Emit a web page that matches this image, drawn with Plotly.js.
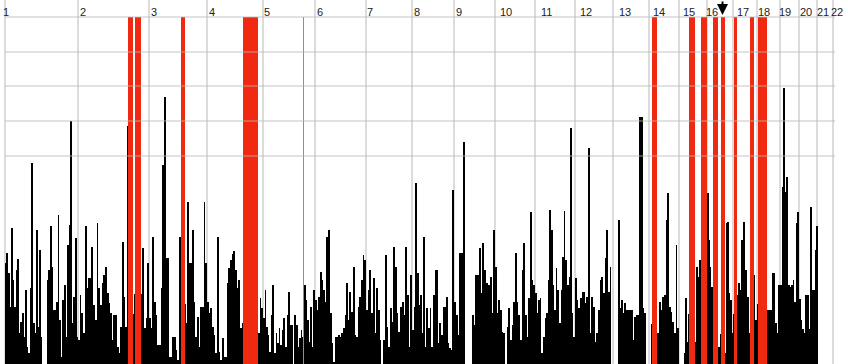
<!DOCTYPE html>
<html><head><meta charset="utf-8">
<script src="https://cdn.plot.ly/plotly-3.0.1.min.js"></script>
<style>html,body{margin:0;padding:0;background:#fff;overflow:hidden}#chart{width:848px;height:364px;}</style>
</head><body><div id="chart"></div>
<script>
// Chromosome labels, start/end positions along the genome axis, label positions
const chromLabels = ['1','2','3','4','5','6','7','8','9','10','11','12','13','14','15','16','17','18','19','20','21','22'];
const chromStart = [5, 78, 149, 207, 263, 315, 366, 412, 454, 495, 535, 575, 613, 649, 679, 707, 733, 757, 780, 799, 817, 833];
const chromEnd   = [78, 149, 207, 263, 315, 366, 412, 454, 495, 535, 575, 613, 649, 679, 707, 733, 757, 780, 799, 818, 833, 848];
const labelPos   = [6, 83, 153.5, 212, 267, 320, 370, 416.5, 459, 505.5, 546, 586, 625, 659, 689, 712, 743, 764, 785, 806, 823, 837];

// Scores per chromosome (bar heights)
const chr1  = [101,111,91,57,136,84,57,94,105,31,42,51,27,74,17,11,76,201,41,31,134,37,114,27,0,0,0,84,94,138,97,54,54,62,149,44,7,64,79,27,119,139,243,41,67,126,27];
const chr2  = [24,69,51,31,138,76,86,86,117,59,44,141,76,59,81,89,97,71,61,51,24,49,49,17,11,37,122,67,37,238,60,80,50,70,90,60,50,70,116,36,46,101];
const chr3  = [46,36,127,62,49,19,19,76,199,267,106,106,7,7,27,27,14,4,127,80,100,60,41,162,101,101,134,62,27,47,17,57,57,162,101];
const chr4  = [62,51,56,37,29,11,127,12,4,26,7,7,81,96,104,110,113,94,76,84,36,41,50,60,40,70,50,60,40,50,60,31,66,56];
const chr5  = [46,74,37,29,12,49,79,11,31,21,36,19,34,46,17,49,72,39,39,0,49,39,17,26,34,27,79,64,44,22,57,17,74];
const chr6  = [64,54,67,92,84,74,62,127,134,51,21,2,27,27,29,27,31,36,49,81,44,72,52,97,29,27,57,67,84,109,104];
const chr7  = [54,74,94,51,86,31,76,54,24,0,24,109,37,17,56,42,117,97,51,32,57,62,49,117,69,17,89];
const chr8  = [34,57,181,91,59,69,31,127,17,56,36,56,17,69,94,94,21,41,29,57,57,67,21,16,14,174];
const chr9  = [62,49,29,111,111,222,0,0,0,0,49,39,89,89,116,71,121,94,81,79,87,51,134];
const chr10 = [97,51,64,54,32,31,0,37,56,24,39,62,111,62,49,24,94,121,49,27,66,152,84,79];
const chr11 = [71,51,64,66,11,27,46,51,84,154,134,79,54,96,74,41,74,107,153,104,79,87,236,51,27];
const chr12 = [86,64,56,66,72,72,61,67,216,31,67,57,22,31,54,84,87,71,106,134,72,97,0];
const chr13 = [0,0,0,144,56,64,51,61,54,54,54,54,24,47,49,49,247,247,56,51,0,0];
const chr14 = [0,40,50,40,34,31,62,54,67,69,144,171,57,52,42,31,119,36];
const chr15 = [0,0,0,11,66,22,50,60,50,60,22,97,87,104,80,90,70,80];
const chr16 = [171,124,97,77,60,50,70,17,17,30,40,20,11,141,142,71,64,31];
const chr17 = [50,60,69,81,74,124,142,94,67,31,40,60,89,44];
const chr18 = [60,50,70,60,50,40,54,54,54,91,91,41,31,79];
const chr19 = [79,177,276,172,187,79,77,79,84,62,141,152];
const chr20 = [65,44,35,31,69,69,35,157,74,74,114,138];
const chr21 = [];
const chr22 = [];
const chromValues = [chr1,chr2,chr3,chr4,chr5,chr6,chr7,chr8,chr9,chr10,chr11,chr12,chr13,chr14,chr15,chr16,chr17,chr18,chr19,chr20,chr21,chr22];

// Highlighted regions (start/end along genome axis)
const bandStart = [128, 135, 181, 242.5, 303, 651.5, 688.5, 701, 712.7, 721, 734.3, 750, 757.5];
const bandEnd   = [133.3, 141, 185, 258, 304.2, 656.5, 694.5, 707.3, 718, 725, 737.3, 753.5, 766.7];

// Score grid levels and marker position
const gridVals = [208, 243, 278, 312, 347];
const arrowPos = 722.5;

const xs = [], ys = [], ws = [];
chromValues.forEach((vals, i) => {
  const n = vals.length; if (!n) return;
  const step = (chromEnd[i] - chromStart[i]) / n;
  vals.forEach((v, j) => { xs.push(chromStart[i] + (j + 0.5) * step); ys.push(v); ws.push(step * 1.1); });
});

const topVal = Math.max(...gridVals);
const bars = {
  type: 'bar', x: xs, y: ys, width: ws,
  marker: {color: '#000', line: {width: 0}}, hoverinfo: 'skip'
};
const bands = {
  type: 'bar',
  x: bandStart.map((s, i) => (s + bandEnd[i]) / 2),
  y: bandStart.map(() => topVal),
  width: bandStart.map((s, i) => bandEnd[i] - s),
  marker: {color: bandStart.map((s, i) => (bandEnd[i] - s) < 2 ? '#f26a55' : '#f02a10'), line: {width: 0}},
  hoverinfo: 'skip'
};

const shapes = gridVals.map(g => ({
  type: 'line', xref: 'x', yref: 'y',
  x0: chromStart[0], x1: chromStart[chromStart.length - 1] + 2, y0: g, y1: g,
  line: {color: 'rgba(185,185,185,0.55)', width: 1.5}, layer: 'above'
}));

const annotations = chromLabels.map((t, i) => ({
  text: t, x: labelPos[i], xref: 'x', y: 1, yref: 'paper', yanchor: 'top', yshift: -4,
  showarrow: false, font: {family: 'Liberation Sans, Arial, sans-serif', size: 11, color: '#222'}
}));
annotations.push({
  text: '', x: arrowPos, xref: 'x', y: 364 - 15, yref: 'y', showarrow: true,
  ax: 0, ay: -15, arrowhead: 2, arrowsize: 1.1, arrowwidth: 2, arrowcolor: '#000', standoff: 0
});

const layout = {
  width: 848, height: 364,
  margin: {l: 0, r: 0, t: 0, b: 0, pad: 0},
  paper_bgcolor: '#fff', plot_bgcolor: '#fff',
  showlegend: false, barmode: 'overlay', bargap: 0,
  xaxis: {range: [0, 848], tickvals: chromStart, showticklabels: false, ticks: '',
          showgrid: true, gridcolor: '#dcdcdc', gridwidth: 1.5, zeroline: false, showline: false, fixedrange: true},
  yaxis: {range: [0, 364], showgrid: false, showticklabels: false, ticks: '', zeroline: false, showline: false, fixedrange: true},
  shapes: shapes, annotations: annotations
};

Plotly.newPlot('chart', [bars, bands], layout, {staticPlot: true, displayModeBar: false});
</script>
</body></html>
